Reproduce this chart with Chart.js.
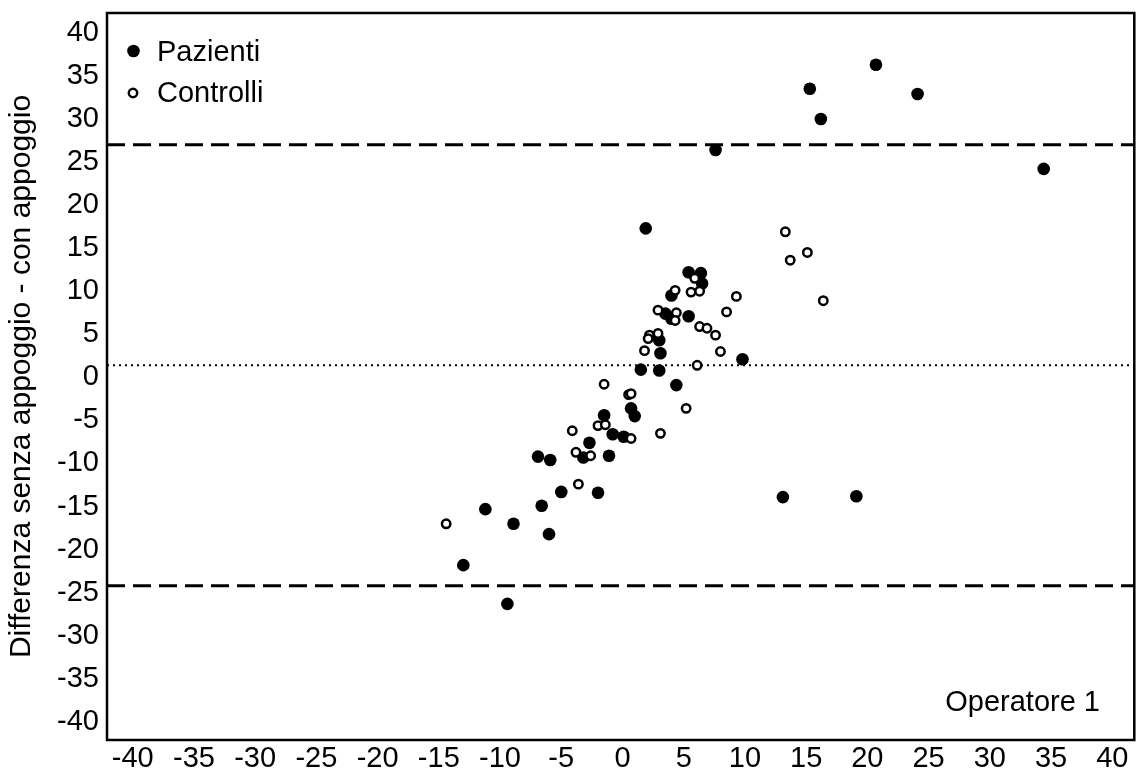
<!DOCTYPE html>
<html>
<head>
<meta charset="utf-8">
<script src="https://cdn.jsdelivr.net/npm/chart.js@4/dist/chart.umd.min.js"></script>
<style>
    html, body { margin: 0; padding: 0; background: #fff; overflow: hidden; }
    #wrap { width: 1136px; height: 771px; position: relative; overflow: hidden; }
</style>
</head>
<body>
<div id="wrap"><canvas id="myChart" width="1141" height="771"></canvas></div>
<script>
// valori (media vs differenza)
const pazientiX = [20.7, 15.3, 24.1, 16.2, 34.4, 7.6, 1.9, 13.1, 19.1, 5.4, 6.4, 6.5, 4.0, 3.5, 5.4, 3.0, 3.1, 1.5, 3.0, 9.8,
    4.4, -1.5, 0.7, 1.0, -0.8, 0.1, -2.7, -3.2, -1.1, -6.9, -5.9, -5.0, -2.0, -11.2, -6.6, -8.9, -6.0, -13.0, -9.4, 4.0];
const pazientiY = [36.3, 33.5, 32.9, 30.0, 24.2, 26.4, 17.3, -13.9, -13.8, 12.2, 12.1, 10.9, 9.5, 7.4, 7.1, 4.3, 2.8, 0.9, 0.8, 2.1,
    -0.9, -4.4, -3.6, -4.5, -6.6, -6.9, -7.6, -9.3, -9.1, -9.2, -9.6, -13.3, -13.4, -15.3, -14.9, -17.0, -18.2, -21.8, -26.3, 6.8];

const controlliX = [13.3, 15.1, 13.7, 16.4, 9.3, 5.9, 4.3, 5.6, 6.3, 2.9, 4.4, 4.3, 8.5, 6.3, 6.9, 7.6, 2.2, 2.1, 2.9, 1.8,
    8.0, 6.1, -1.5, 0.5, 0.7, -2.0, -1.4, -4.1, 0.7, 3.1, -3.8, -2.6, -3.6, -14.4, 5.2];
const controlliY = [16.9, 14.5, 13.6, 8.9, 9.4, 11.5, 10.1, 9.9, 10.0, 7.8, 7.5, 6.6, 7.6, 5.9, 5.7, 4.9, 4.9, 4.5, 5.1, 3.1,
    3.0, 1.4, -0.8, -2.0, -1.9, -5.6, -5.5, -6.2, -7.1, -6.5, -8.7, -9.1, -12.4, -17.0, -3.6];

const xTicks = [-40, -35, -30, -25, -20, -15, -10, -5, 0, 5, 10, 15, 20, 25, 30, 35, 40];
const yTicks = [-40, -35, -30, -25, -20, -15, -10, -5, 0, 5, 10, 15, 20, 25, 30, 35, 40];

const mediaDiff = 1.4;
const limiteSup = 27.0;
const limiteInf = -24.2;

const X_MIN = -42.1, X_MAX = 41.8;
const Y_MIN = -42.1, Y_MAX = 42.3;

const FONT = "'Liberation Sans', Arial, sans-serif";

function toPoints(xs, ys) {
    return xs.map((x, i) => ({ x: x, y: ys[i] }));
}

function hLine(y) {
    return [{ x: X_MIN, y: y }, { x: X_MAX, y: y }];
}

// cornice, legenda interna e scritta "Operatore 1"
const extras = {
    id: 'extras',
    afterDraw(chart) {
        const ctx = chart.ctx;
        const a = chart.chartArea;
        ctx.save();
        ctx.strokeStyle = '#000';
        ctx.lineWidth = 2.5;
        ctx.strokeRect(a.left, a.top, a.right - a.left, a.bottom - a.top);

        ctx.fillStyle = '#000';
        ctx.beginPath();
        ctx.arc(133.5, 51, 6.3, 0, Math.PI * 2);
        ctx.fill();

        ctx.beginPath();
        ctx.arc(133, 93, 4.2, 0, Math.PI * 2);
        ctx.fillStyle = '#fff';
        ctx.fill();
        ctx.lineWidth = 2.5;
        ctx.stroke();

        ctx.fillStyle = '#000';
        ctx.font = '29px ' + FONT;
        ctx.textBaseline = 'alphabetic';
        ctx.textAlign = 'left';
        ctx.fillText('Pazienti', 157, 61);
        ctx.fillText('Controlli', 157, 102);

        ctx.textAlign = 'right';
        ctx.fillText('Operatore 1', 1100, 711);
        ctx.restore();
    }
};

const ctx = document.getElementById('myChart').getContext('2d');
const myChart = new Chart(ctx, {
    type: 'scatter',
    data: {
        datasets: [
            {
                label: 'Controlli',
                data: toPoints(controlliX, controlliY),
                pointRadius: 4.2,
                borderWidth: 2.5,
                borderColor: '#000',
                backgroundColor: '#fff',
                order: 0
            },
            {
                label: 'Pazienti',
                data: toPoints(pazientiX, pazientiY),
                pointRadius: 6.3,
                borderWidth: 0,
                borderColor: '#000',
                backgroundColor: '#000',
                order: 1
            },
            {
                label: 'media',
                data: hLine(mediaDiff),
                showLine: true,
                pointRadius: 0,
                borderColor: '#000',
                borderWidth: 2,
                borderDash: [2, 4],
                order: 2
            },
            {
                label: 'limite superiore',
                data: hLine(limiteSup),
                showLine: true,
                pointRadius: 0,
                borderColor: '#000',
                borderWidth: 3,
                borderDash: [18, 8],
                order: 2
            },
            {
                label: 'limite inferiore',
                data: hLine(limiteInf),
                showLine: true,
                pointRadius: 0,
                borderColor: '#000',
                borderWidth: 3,
                borderDash: [18, 8],
                order: 2
            }
        ]
    },
    options: {
        responsive: false,
        animation: false,
        events: [],
        layout: { padding: { top: 13, right: 2, left: 0, bottom: 0 } },
        plugins: {
            legend: { display: false },
            tooltip: { enabled: false }
        },
        scales: {
            x: {
                type: 'linear',
                min: X_MIN,
                max: X_MAX,
                afterBuildTicks: scale => { scale.ticks = xTicks.map(v => ({ value: v })); },
                afterFit: scale => {
                    scale.height = 31;
                    scale.paddingLeft = 0;
                    scale.paddingRight = 0;
                },
                grid: { display: false, drawTicks: false },
                border: { display: false },
                ticks: {
                    color: '#000',
                    padding: 2,
                    maxRotation: 0,
                    autoSkip: false,
                    font: { family: FONT, size: 29 }
                }
            },
            y: {
                type: 'linear',
                min: Y_MIN,
                max: Y_MAX,
                afterBuildTicks: scale => { scale.ticks = yTicks.map(v => ({ value: v })); },
                afterFit: scale => {
                    scale.width = 107;
                    scale.paddingTop = 0;
                    scale.paddingBottom = 0;
                },
                grid: { display: false, drawTicks: false },
                border: { display: false },
                ticks: {
                    color: '#000',
                    padding: 8,
                    autoSkip: false,
                    font: { family: FONT, size: 29 }
                },
                title: {
                    display: true,
                    text: 'Differenza senza appoggio - con appoggio',
                    color: '#000',
                    padding: { top: 4, bottom: 0 },
                    font: { family: FONT, size: 30, lineHeight: 1.2 }
                }
            }
        }
    },
    plugins: [extras]
});
</script>
</body>
</html>
